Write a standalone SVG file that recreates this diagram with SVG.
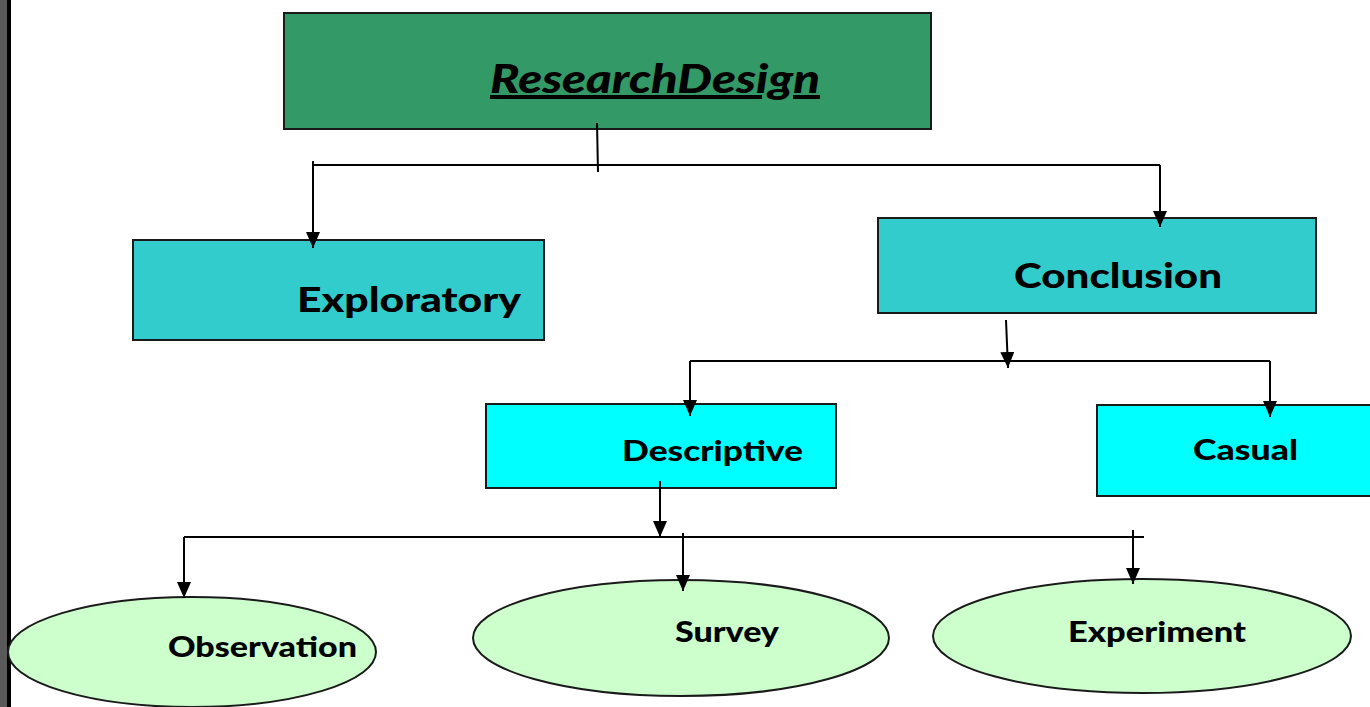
<svg xmlns="http://www.w3.org/2000/svg" width="1370" height="707" viewBox="0 0 1370 707">
<style>
.box{stroke:#1a1a1a;stroke-width:2}
.ell{fill:#ccffcc;stroke:#1a1a1a;stroke-width:2}
.lbl{font-family:Lato,"Open Sans","Liberation Sans",sans-serif;font-weight:900;fill:#000}
.conn line,.conn path{stroke:#000;stroke-width:2;fill:none}
</style>
<defs>
<marker id="arr" viewBox="0 0 16 14" refX="16" refY="7" markerWidth="16" markerHeight="14" markerUnits="userSpaceOnUse" orient="auto">
<path d="M0,0 L16,7 L0,14 Z" fill="#000"/>
</marker>
</defs>
<rect width="1370" height="707" fill="#fff"/>
<rect x="0" y="0" width="7" height="707" fill="#595959"/>
<rect x="7" y="0" width="4" height="707" fill="#000"/>

<g id="observation">
<ellipse class="ell" cx="192" cy="652" rx="184" ry="55"/>
<text class="lbl" x="168" y="657" font-size="29" textLength="189" lengthAdjust="spacingAndGlyphs">Observation</text>
</g>
<g id="survey">
<ellipse class="ell" cx="681" cy="638" rx="208" ry="58"/>
<text class="lbl" x="675" y="642" font-size="29" textLength="104" lengthAdjust="spacingAndGlyphs">Survey</text>
</g>
<g id="experiment">
<ellipse class="ell" cx="1142" cy="636" rx="209" ry="57"/>
<text class="lbl" x="1068" y="642" font-size="29" textLength="178" lengthAdjust="spacingAndGlyphs">Experiment</text>
</g>

<g id="research-design">
<rect class="box" x="284" y="13" width="647" height="116" fill="#339966"/>
<text class="lbl" x="490" y="93" font-size="40" font-style="italic" text-decoration="underline" textLength="330" lengthAdjust="spacingAndGlyphs">ResearchDesign</text>
</g>
<g id="exploratory">
<rect class="box" x="133" y="240" width="411" height="100" fill="#33cccc"/>
<text class="lbl" x="297" y="312" font-size="35" textLength="224" lengthAdjust="spacingAndGlyphs">Exploratory</text>
</g>
<g id="conclusion">
<rect class="box" x="878" y="218" width="438" height="95" fill="#33cccc"/>
<text class="lbl" x="1014" y="288" font-size="35" textLength="208" lengthAdjust="spacingAndGlyphs">Conclusion</text>
</g>
<g id="descriptive">
<rect class="box" x="486" y="404" width="350" height="84" fill="#00ffff"/>
<text class="lbl" x="622" y="461" font-size="29" textLength="181" lengthAdjust="spacingAndGlyphs">Descriptive</text>
</g>
<g id="casual">
<rect class="box" x="1097" y="405" width="290" height="91" fill="#00ffff"/>
<text class="lbl" x="1193" y="460" font-size="29" textLength="105" lengthAdjust="spacingAndGlyphs">Casual</text>
</g>

<g id="connectors" class="conn">
<line x1="597" y1="123" x2="598" y2="172"/>
<line x1="313" y1="165" x2="1160" y2="165"/>
<line x1="313" y1="161" x2="313" y2="248" marker-end="url(#arr)"/>
<line x1="1160" y1="165" x2="1160" y2="227" marker-end="url(#arr)"/>
<line x1="1006" y1="320" x2="1008" y2="368" marker-end="url(#arr)"/>
<line x1="690" y1="361" x2="1270" y2="361"/>
<line x1="690" y1="361" x2="690" y2="416" marker-end="url(#arr)"/>
<line x1="1270" y1="361" x2="1270" y2="417" marker-end="url(#arr)"/>
<line x1="660" y1="481" x2="660" y2="537" marker-end="url(#arr)"/>
<line x1="184" y1="537" x2="1144" y2="537"/>
<line x1="184" y1="537" x2="184" y2="598" marker-end="url(#arr)"/>
<line x1="683" y1="533" x2="683" y2="591" marker-end="url(#arr)"/>
<line x1="1133" y1="530" x2="1133" y2="584" marker-end="url(#arr)"/>
</g>
</svg>
